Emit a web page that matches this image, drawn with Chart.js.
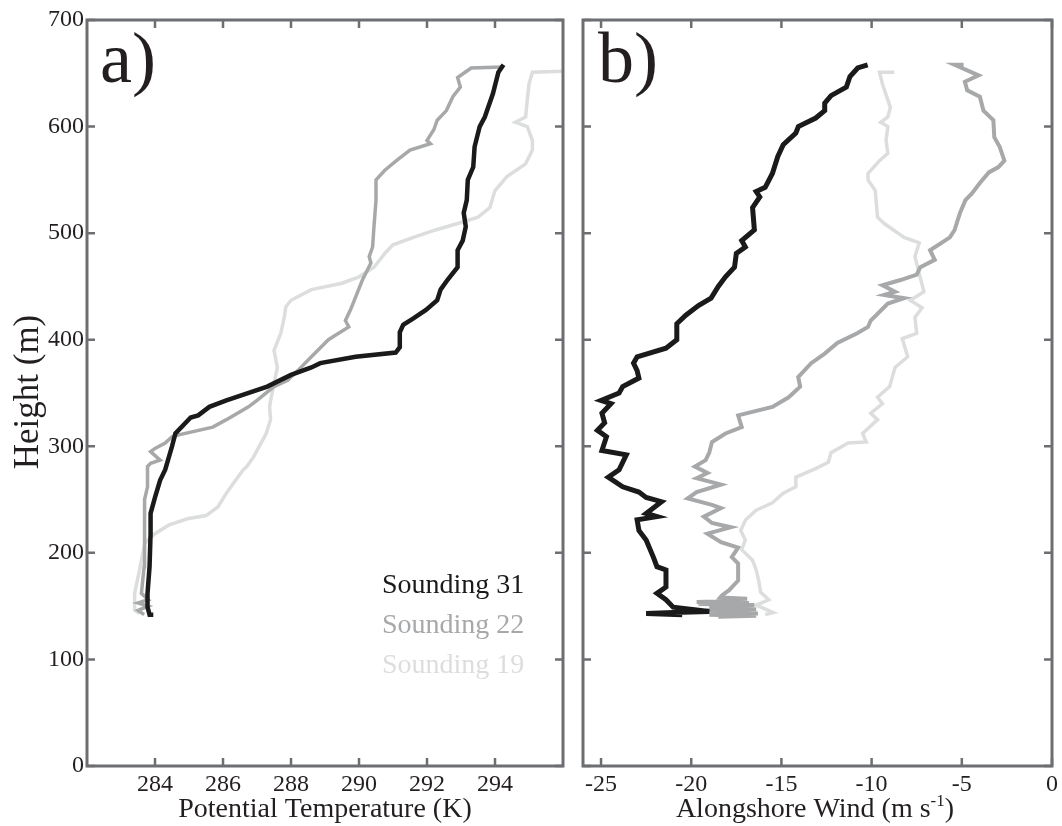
<!DOCTYPE html>
<html>
<head>
<meta charset="utf-8">
<title>Soundings</title>
<script src="https://cdn.jsdelivr.net/npm/chart.js@4.4.1/dist/chart.umd.min.js"></script>
<style>
  body { margin: 0; background: #fff; }
  #wrap { position: relative; width: 1062px; height: 826px; }
  canvas { position: absolute; top: 0; }
  #left { left: 0; }
  #right { left: 575px; }
</style>
</head>
<body>
<div id="wrap">
  <canvas id="left" width="575" height="826" style="width:575px;height:826px"></canvas>
  <canvas id="right" width="487" height="826" style="width:487px;height:826px"></canvas>
</div>
<script>
// ---- data ----
const seriesNames = ['Sounding 31', 'Sounding 22', 'Sounding 19'];

const thetaTicks = [284, 286, 288, 290, 292, 294];
const windTicks = [-25, -20, -15, -10, -5, 0];
const heightTicks = [0, 100, 200, 300, 400, 500, 600, 700];

// panel a) potential temperature (K) vs height (m)
const theta31Height = [142, 142, 149, 162, 187, 218, 237, 252, 268, 278,
  300, 312, 327, 329, 337, 343, 356, 367, 374, 378,
  384, 388, 393, 407, 414, 420, 428, 437, 447, 456,
  468, 484, 493, 506, 519, 531, 550, 562, 581, 600,
  609, 631, 651, 658];
const theta31 = [283.95, 283.84, 283.78, 283.78, 283.84, 283.87, 283.87, 284.0, 284.15, 284.3,
  284.5, 284.6, 285.05, 285.27, 285.6, 286.1, 287.3, 288.0, 288.6, 288.86,
  289.9, 291.08, 291.2, 291.2, 291.3, 291.6, 291.97, 292.3, 292.4, 292.6,
  292.9, 292.9, 293.05, 293.14, 293.08, 293.17, 293.2, 293.36, 293.4, 293.55,
  293.7, 293.94, 294.1, 294.25];

const theta22Height = [142, 146, 150, 153, 156, 162, 187, 212, 231, 250,
  262, 281, 284, 287, 295, 298, 303, 309, 310, 318,
  325, 337, 343, 356, 362, 371, 384, 400, 406, 412,
  418, 428, 440, 456, 472, 478, 487, 506, 531, 537,
  550, 559, 568, 578, 584, 587, 597, 606, 615, 628,
  637, 646, 655, 656];
const theta22 = [283.68, 283.5, 283.8, 283.5, 283.8, 283.6, 283.68, 283.68, 283.7, 283.7,
  283.78, 283.78, 283.87, 284.15, 283.87, 284.0, 284.3, 284.5, 284.6, 285.7,
  286.1, 286.75, 287.0, 287.5, 287.9, 288.2, 288.6, 289.1, 289.4, 289.7,
  289.6, 289.75, 289.9, 290.1, 290.35, 290.3, 290.4, 290.44, 290.5, 290.5,
  290.5, 290.76, 291.1, 291.5, 292.1, 292.0, 292.2, 292.3, 292.57, 292.76,
  292.98, 292.9, 293.3, 294.2];

const theta19Height = [143, 146, 162, 177, 193, 209, 218, 226, 232, 235,
  243, 256, 265, 278, 281, 290, 306, 312, 325, 337,
  343, 359, 374, 390, 406, 421, 431, 437, 447, 453,
  459, 468, 481, 489, 496, 503, 510, 515, 524, 540,
  553, 565, 578, 587, 600, 604, 609, 625, 640, 651,
  652];
const theta19 = [283.55, 283.4, 283.4, 283.5, 283.6, 283.7, 284.0, 284.4, 284.95, 285.5,
  285.85, 286.1, 286.3, 286.6, 286.7, 286.9, 287.17, 287.27, 287.4, 287.37,
  287.4, 287.5, 287.6, 287.5, 287.7, 287.8, 287.85, 288.0, 288.6, 289.5,
  290.0, 290.44, 290.76, 291.0, 291.6, 292.25, 293.0, 293.5, 293.85, 294.0,
  294.35, 294.9, 295.1, 295.1, 294.95, 294.6, 294.9, 294.95, 295.0, 295.1,
  296.0];

// panel b) alongshore wind (m/s) vs height (m)
const wind31Height = [142, 143, 144, 145, 149, 156, 162, 168, 184, 187,
  196, 212, 221, 231, 234, 237, 248, 252, 257, 262,
  271, 278, 292, 296, 309, 315, 322, 331, 340, 343,
  350, 356, 364, 371, 378, 384, 392, 400, 415, 423,
  432, 439, 450, 459, 468, 481, 487, 493, 503, 524,
  534, 539, 543, 556, 572, 583, 594, 600, 608, 615,
  622, 629, 637, 647, 655, 658];
const wind31 = [-20.5, -22.5, -21.0, -19.0, -21.0, -21.4, -21.9, -21.4, -21.4, -21.9,
  -22.1, -22.5, -22.9, -23.0, -21.9, -22.5, -21.65, -22.5, -22.9, -23.8,
  -24.6, -24.0, -23.6, -24.95, -24.7, -25.2, -24.8, -24.95, -24.45, -25.0,
  -24.0, -23.8, -22.9, -23.0, -23.2, -23.0, -21.4, -20.8, -20.8, -20.3,
  -19.6, -18.9, -18.5, -18.1, -17.6, -17.5, -17.0, -17.2, -16.5, -16.6,
  -16.2, -16.4, -15.9, -15.5, -15.2, -14.9, -14.2, -14.06, -13.1, -12.6,
  -12.6, -12.25, -11.4, -11.2, -10.77, -10.22];

const wind22Height = [140, 141, 142, 143, 144, 145, 146, 147, 148, 149,
  150, 151, 152, 153, 154, 155, 156, 157, 158, 160,
  165, 174, 190, 196, 205, 210, 218, 224, 228,
  234, 242, 245, 251, 257, 264, 270, 275, 281, 287,
  294, 304, 312, 318, 329, 337, 346, 356, 365, 378,
  387, 397, 406, 412, 418, 434, 439, 442, 445, 451,
  456, 461, 468, 475, 484, 496, 503, 519, 531, 537,
  547, 557, 562, 568, 581, 590, 606, 615, 628, 634,
  642, 648, 658, 658];
const wind22 = [-18.5, -16.4, -19.0, -16.3, -18.6, -16.5, -19.2, -16.4, -19.0, -16.6,
  -18.8, -16.5, -19.6, -16.8, -19.7, -17.0, -18.4, -16.9, -18.4, -18.3,
  -17.9, -17.4, -17.4, -17.75, -17.4, -18.35, -19.1, -17.8, -18.85,
  -19.3, -18.35, -18.85, -20.2, -19.7, -18.35, -19.7, -19.1, -19.8, -19.2,
  -19.0, -18.85, -18.1, -17.2, -17.4, -15.5, -14.6, -13.96, -14.07, -13.35,
  -12.6, -11.9, -10.8, -10.2, -10.05, -9.1, -8.2, -9.3, -8.7, -9.4,
  -8.4, -7.5, -7.3, -6.5, -6.76, -5.66, -5.4, -5.1, -4.8, -4.45,
  -4.0, -3.5, -2.97, -2.64, -2.9, -3.2, -3.25, -3.8, -4.0, -4.7,
  -4.83, -4.07, -5.4, -4.9];

const wind19Height = [142, 144, 151, 156, 163, 174, 184, 193, 203, 212,
  221, 231, 240, 247, 256, 262, 271, 279, 285, 294,
  303, 304, 312, 325, 331, 340, 346, 356, 374, 384,
  401, 406, 421, 430, 437, 445, 462, 478, 491, 496,
  509, 515, 540, 550, 556, 568, 575, 587, 600, 604,
  609, 618, 640, 651, 651];
const wind19 = [-15.9, -15.45, -16.4, -15.7, -16.15, -16.26, -16.4, -16.6, -17.2, -17.0,
  -17.26, -16.98, -16.4, -15.5, -14.9, -14.2, -14.2, -13.1, -12.4, -12.25,
  -11.3, -10.3, -10.5, -9.67, -10.05, -9.4, -9.67, -9.0, -8.7, -8.0,
  -8.3, -7.5, -7.6, -7.2, -7.86, -7.1, -7.36, -7.6, -7.36, -8.2,
  -9.3, -9.67, -9.8, -10.2, -10.2, -9.56, -9.1, -9.2, -9.1, -9.5,
  -9.1, -8.96, -9.4, -9.56, -8.74];

// ---- styling ----
const SERIF = '"Liberation Serif", "DejaVu Serif", serif';
const TEXT = '#231f20';
const FRAME = '#6d6e71';
const lineColors = ['#1a1a1a', '#a6a8aa', '#dcdddd'];

function series(heights, values, color, width) {
    return {
        data: heights.map((h, i) => ({ x: values[i], y: h })),
        borderColor: color,
        backgroundColor: color,
        borderWidth: width,
        showLine: true,
        pointRadius: 0,
        fill: false,
        tension: 0
    };
}

// box round the plot area, with inward ticks on all four sides
const framePlugin = {
    id: 'frame',
    afterDraw(chart) {
        const { ctx, chartArea: a, scales } = chart;
        ctx.save();
        ctx.strokeStyle = FRAME;
        ctx.lineWidth = 2.5;
        scales.x.ticks.forEach(t => {
            const px = scales.x.getPixelForValue(t.value);
            ctx.beginPath();
            ctx.moveTo(px, a.bottom); ctx.lineTo(px, a.bottom - 8);
            ctx.moveTo(px, a.top); ctx.lineTo(px, a.top + 8);
            ctx.stroke();
        });
        scales.y.ticks.forEach(t => {
            const py = scales.y.getPixelForValue(t.value);
            ctx.beginPath();
            ctx.moveTo(a.left, py); ctx.lineTo(a.left + 8, py);
            ctx.moveTo(a.right, py); ctx.lineTo(a.right - 8, py);
            ctx.stroke();
        });
        ctx.lineWidth = 3;
        ctx.strokeRect(a.left, a.top, a.right - a.left, a.bottom - a.top);
        ctx.restore();
    }
};

function axes(min, max, tickValues, showYLabels, yWidth) {
    const tickFont = { family: SERIF, size: 24 };
    return {
        x: {
            type: 'linear', min, max,
            afterBuildTicks: s => { s.ticks = tickValues.map(v => ({ value: v })); },
            afterFit: s => { s.height = 60; },
            grid: { display: false, drawTicks: false },
            border: { display: false },
            ticks: { font: tickFont, color: TEXT, padding: 4, maxRotation: 0, autoSkip: false }
        },
        y: {
            type: 'linear', min: 0, max: 700,
            afterBuildTicks: s => { s.ticks = heightTicks.map(v => ({ value: v })); },
            afterFit: s => { s.width = yWidth; },
            grid: { display: false, drawTicks: false },
            border: { display: false },
            ticks: { display: showYLabels, font: tickFont, color: TEXT, padding: 3 }
        }
    };
}

const baseOptions = (padRight, scales) => ({
    responsive: false,
    animation: false,
    devicePixelRatio: 1,
    layout: { autoPadding: false, padding: { top: 20, right: padRight, left: 0, bottom: 0 } },
    plugins: { legend: { display: false }, tooltip: { enabled: false } },
    scales
});

// ---- panel a ----
const leftText = {
    id: 'leftText',
    afterDraw(chart) {
        const ctx = chart.ctx;
        ctx.save();
        ctx.fillStyle = TEXT;
        ctx.textBaseline = 'alphabetic';
        ctx.font = `72px ${SERIF}`;
        ctx.fillText('a)', 100, 82);

        ctx.font = `28px ${SERIF}`;
        seriesNames.forEach((name, i) => {
            ctx.fillStyle = lineColors[i];
            ctx.fillText(name, 382, 593 + i * 40);
        });

        ctx.fillStyle = TEXT;
        ctx.textAlign = 'center';
        ctx.fillText('Potential Temperature (K)', 325, 817);

        ctx.translate(38, 392);
        ctx.rotate(-Math.PI / 2);
        ctx.font = `35px ${SERIF}`;
        ctx.fillText('Height (m)', 0, 0);
        ctx.restore();
    }
};

new Chart(document.getElementById('left'), {
    type: 'scatter',
    data: {
        datasets: [
            series(theta31Height, theta31, lineColors[0], 4.5),
            series(theta22Height, theta22, lineColors[1], 3.5),
            series(theta19Height, theta19, lineColors[2], 3.5)
        ]
    },
    options: baseOptions(12, axes(282, 296, thetaTicks, true, 87)),
    plugins: [framePlugin, leftText]
});

// ---- panel b ----
const rightText = {
    id: 'rightText',
    afterDraw(chart) {
        const ctx = chart.ctx;
        ctx.save();
        ctx.fillStyle = TEXT;
        ctx.textBaseline = 'alphabetic';
        ctx.font = `72px ${SERIF}`;
        ctx.fillText('b)', 23, 82);

        // "Alongshore Wind (m s-1)" with a raised -1
        const main = 'Alongshore Wind (m s', sup = '-1', close = ')';
        ctx.font = `28px ${SERIF}`;
        const w1 = ctx.measureText(main).width;
        const w3 = ctx.measureText(close).width;
        ctx.font = `17px ${SERIF}`;
        const w2 = ctx.measureText(sup).width;
        let x = 240 - (w1 + w2 + w3) / 2;
        ctx.font = `28px ${SERIF}`;
        ctx.fillText(main, x, 817);
        ctx.font = `17px ${SERIF}`;
        ctx.fillText(sup, x + w1, 806);
        ctx.font = `28px ${SERIF}`;
        ctx.fillText(close, x + w1 + w2, 817);
        ctx.restore();
    }
};

new Chart(document.getElementById('right'), {
    type: 'scatter',
    data: {
        datasets: [
            series(wind31Height, wind31, lineColors[0], 5),
            series(wind22Height, wind22, lineColors[1], 4),
            series(wind19Height, wind19, lineColors[2], 3.5)
        ]
    },
    options: baseOptions(7, axes(-26, 0, windTicks, false, 8)),
    plugins: [framePlugin, rightText]
});
</script>
</body>
</html>
